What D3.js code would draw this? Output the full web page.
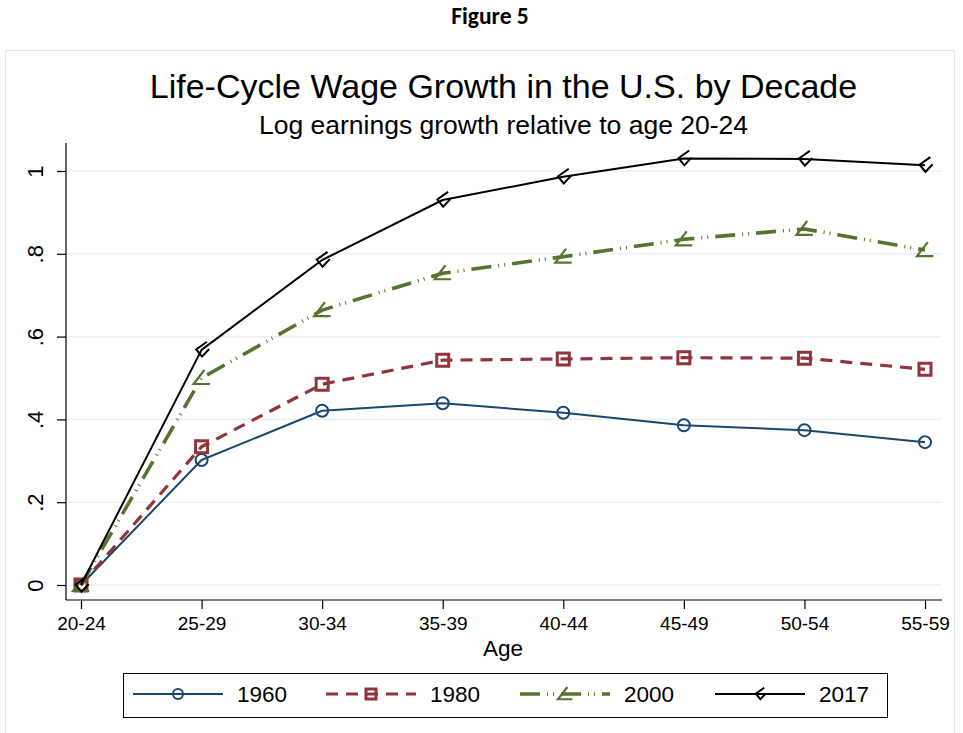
<!DOCTYPE html>
<html><head><meta charset="utf-8">
<script src="https://cdn.jsdelivr.net/npm/d3@7"></script>
<style>body{margin:0;background:#fff}svg{display:block}</style>
</head><body>
<script>
const ages = ["20-24","25-29","30-34","35-39","40-44","45-49","50-54","55-59"];
const s1960 = [0, 0.302, 0.421, 0.439, 0.416, 0.386, 0.374, 0.345];
const s1980 = [0, 0.334, 0.485, 0.543, 0.546, 0.549, 0.548, 0.521];
const s2000 = [0, 0.500, 0.664, 0.753, 0.793, 0.835, 0.860, 0.809];
const s2017 = [0, 0.568, 0.785, 0.930, 0.986, 1.030, 1.029, 1.014];
const yTicks = [0, 0.2, 0.4, 0.6, 0.8, 1];
const yTickLabels = ["0", ".2", ".4", ".6", ".8", "1"];
const seriesNames = ["1960", "1980", "2000", "2017"];

const W = 963, H = 733;
const svg = d3.select("body").append("svg").attr("width", W).attr("height", H);
const font = "'Liberation Sans', Arial, sans-serif";

// header
svg.append("text").attr("x", 490).attr("y", 24).attr("text-anchor", "middle")
  .attr("font-family", "Carlito, 'Open Sans', sans-serif").attr("font-weight", "bold")
  .attr("font-size", 23.5).text("Figure 5");

// outer graph frame
svg.append("rect").attr("x", 5.5).attr("y", 50.5).attr("width", 949).attr("height", 690)
  .attr("fill", "#fff").attr("stroke", "#e6e6e6").attr("stroke-width", 1);

svg.append("text").attr("x", 503.5).attr("y", 98).attr("text-anchor", "middle")
  .attr("font-family", font).attr("font-size", 34).attr("fill", "#000")
  .text("Life-Cycle Wage Growth in the U.S. by Decade");
svg.append("text").attr("x", 503.5).attr("y", 134).attr("text-anchor", "middle")
  .attr("font-family", font).attr("font-size", 26.5).attr("fill", "#000")
  .text("Log earnings growth relative to age 20-24");

const plotL = 66, plotR = 942, plotT = 143, plotB = 600;
const x = d3.scalePoint().domain(ages).range([81, 925]);
const y = d3.scaleLinear().domain([0, 1]).range([585, 171]);

// gridlines
svg.append("g").selectAll("line").data(yTicks).join("line")
  .attr("x1", plotL + 1).attr("x2", plotR).attr("y1", d => y(d)).attr("y2", d => y(d))
  .attr("stroke", "#eaf2f3").attr("stroke-width", 1.6);

// y axis
const yAxis = d3.axisLeft(y).tickValues(yTicks).tickSize(9).tickPadding(0)
  .tickFormat((d, i) => yTickLabels[i]);
const gy = svg.append("g").attr("transform", `translate(${plotL},0)`).call(yAxis);
gy.select(".domain").attr("d", `M0,${plotT}V${plotB}`).attr("stroke", "#000").attr("stroke-width", 1.2);
gy.selectAll(".tick line").attr("stroke", "#000").attr("stroke-width", 1.2);
gy.selectAll(".tick text").attr("font-family", font).attr("font-size", 22).attr("fill", "#000")
  .attr("text-anchor", "middle").attr("x", null).attr("dy", null)
  .attr("transform", "translate(-23,0) rotate(-90)").attr("y", 0);

// x axis
const xAxis = d3.axisBottom(x).tickSize(9).tickPadding(5);
const gx = svg.append("g").attr("transform", `translate(0,${plotB})`).call(xAxis);
gx.select(".domain").attr("d", `M${plotL},0H${plotR}`).attr("stroke", "#000").attr("stroke-width", 1.2);
gx.selectAll(".tick line").attr("stroke", "#000").attr("stroke-width", 1.2);
gx.selectAll(".tick text").attr("font-family", font).attr("font-size", 19).attr("fill", "#000")
  .attr("dy", null).attr("y", 30);

svg.append("text").attr("x", 503).attr("y", 656).attr("text-anchor", "middle")
  .attr("font-family", font).attr("font-size", 22.5).text("Age");

// marker paths
const markerPath = {
  circle: r => `M${-r},0A${r},${r} 0 1,0 ${r},0A${r},${r} 0 1,0 ${-r},0Z`,
  square: r => `M${-r},${-r}H${r}V${r}H${-r}Z`,
  triangle: r => `M${r*0.35},${-r}L${-r},${r*0.75}H${r*1.05}`,
  diamond: r => `M${r*0.6},${-r*0.9}L${-r*0.6},${-r*0.05}L${r*0.05},${r*0.75}L${r*0.85},${-r*0.1}`
};

const series = [
  {name: "1960", vals: s1960, color: "#1a476f", width: 2, dash: null, marker: "circle", mr: 6, mw: 2, fill: "none"},
  {name: "1980", vals: s1980, color: "#90353b", width: 3.2, dash: "12,8", marker: "square", mr: 6, mw: 3, fill: "none"},
  {name: "2000", vals: s2000, color: "#55752f", width: 3.6, dash: "20,7,1,5,1,7", marker: "triangle", mr: 8, mw: 2.2, fill: "none"},
  {name: "2017", vals: s2017, color: "#000000", width: 2, dash: null, marker: "diamond", mr: 9, mw: 2, fill: "none"}
];

const line = d3.line().x((d, i) => x(ages[i])).y(d => y(d));

series.forEach(s => {
  svg.append("path").datum(s.vals).attr("d", line).attr("fill", "none")
    .attr("stroke", s.color).attr("stroke-width", s.width)
    .attr("stroke-dasharray", s.dash).attr("stroke-linejoin", "round");
  svg.append("g").selectAll("path").data(s.vals).join("path")
    .attr("transform", (d, i) => `translate(${x(ages[i])},${y(d)})`)
    .attr("d", markerPath[s.marker](s.mr)).attr("fill", s.fill)
    .attr("stroke", s.color).attr("stroke-width", s.mw);
});

// legend
const lg = svg.append("g");
lg.append("rect").attr("x", 123.5).attr("y", 673.5).attr("width", 764).attr("height", 44)
  .attr("fill", "#fff").attr("stroke", "#000").attr("stroke-width", 1);
const legX = [133, 326, 520, 715];
const legY = 694;
series.forEach((s, i) => {
  const x0 = legX[i], x1 = x0 + 90;
  lg.append("line").attr("x1", x0).attr("x2", x1).attr("y1", legY).attr("y2", legY)
    .attr("stroke", s.color).attr("stroke-width", s.width).attr("stroke-dasharray", s.dash);
  lg.append("path").attr("transform", `translate(${(x0 + x1) / 2},${legY})`)
    .attr("d", markerPath[s.marker](s.marker === "circle" ? 5 : s.marker === "square" ? 5 : 7))
    .attr("fill", "none").attr("stroke", s.color).attr("stroke-width", s.mw);
  lg.append("text").attr("x", x1 + 14).attr("y", legY + 8).attr("font-family", font)
    .attr("font-size", 22.5).text(seriesNames[i]);
});
</script>
</body></html>
